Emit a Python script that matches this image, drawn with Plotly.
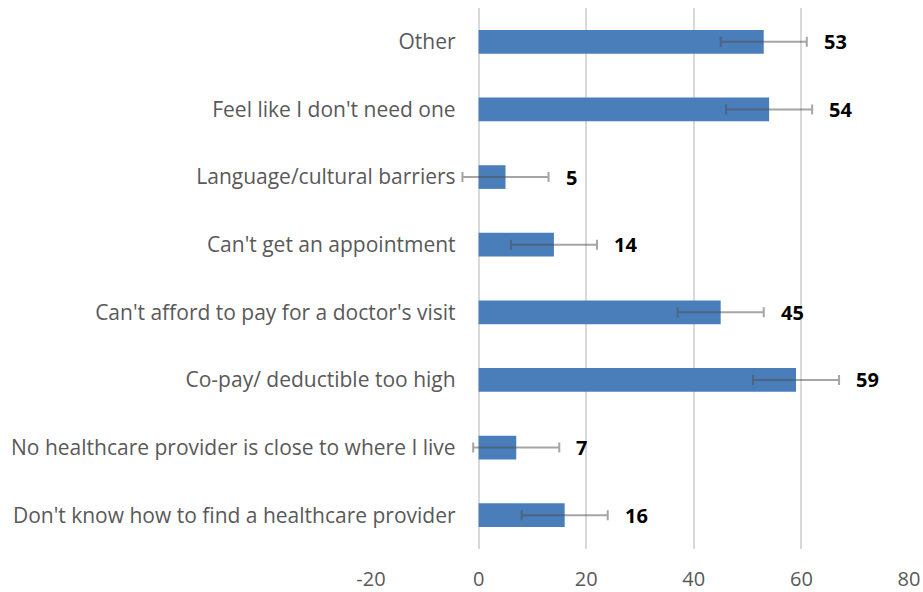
import plotly.graph_objects as go

categories = [
    "Don't know how to find a healthcare provider",
    "No healthcare provider is close to where I live",
    "Co-pay/ deductible too high",
    "Can't afford to pay for a doctor's visit",
    "Can't get an appointment",
    "Language/cultural barriers",
    "Feel like I don't need one",
    "Other",
]
values = [16, 7, 59, 45, 14, 5, 54, 53]
errors = [8, 8, 8, 8, 8, 8, 8, 8]
tick_vals = [-20, 0, 20, 40, 60, 80]
tick_text = ["-20", "0", "20", "40", "60", "80"]
x_range = [-20, 80]

FONT = "'Open Sans', sans-serif"

fig = go.Figure()
fig.add_trace(go.Bar(
    y=categories, x=values, orientation="h",
    marker=dict(color="#4a7ebb", line=dict(width=0)),
    error_x=dict(type="data", array=errors, visible=True,
                 color="rgba(75,75,75,0.5)", thickness=2, width=5),
    width=0.35,
))

for c, v, e in zip(categories, values, errors):
    fig.add_annotation(x=v + e, y=c, text=f"<b>{v}</b>", showarrow=False,
                       xanchor="left", xshift=15,
                       font=dict(family=FONT, size=20, color="#000000"))

# y axis crosses the x axis at 0 (like the source chart)
axis_pos = (0 - x_range[0]) / (x_range[1] - x_range[0])

fig.update_layout(
    width=923, height=592,
    margin=dict(l=371, r=14, t=8, b=43, autoexpand=False),
    paper_bgcolor="white", plot_bgcolor="white",
    showlegend=False,
    font=dict(family=FONT, size=20, color="#595959"),
    xaxis=dict(range=x_range, tickvals=tick_vals, ticktext=tick_text,
               showgrid=True, automargin=False,
               gridcolor="#d9d9d9", gridwidth=1.5, zeroline=False,
               showline=False, ticks="", ticklabelstandoff=16,
               tickfont=dict(size=20, color="#595959")),
    yaxis=dict(categoryorder="array", categoryarray=categories, automargin=False,
               anchor="free", position=axis_pos, side="left",
               showgrid=False, zeroline=False, showline=False, ticks="",
               ticklabelstandoff=23, tickfont=dict(size=21, color="#595959")),
)

fig.write_html("out.html", config={"displayModeBar": False},
               post_script="document.body.style.margin='0';document.body.style.overflow='hidden';")
